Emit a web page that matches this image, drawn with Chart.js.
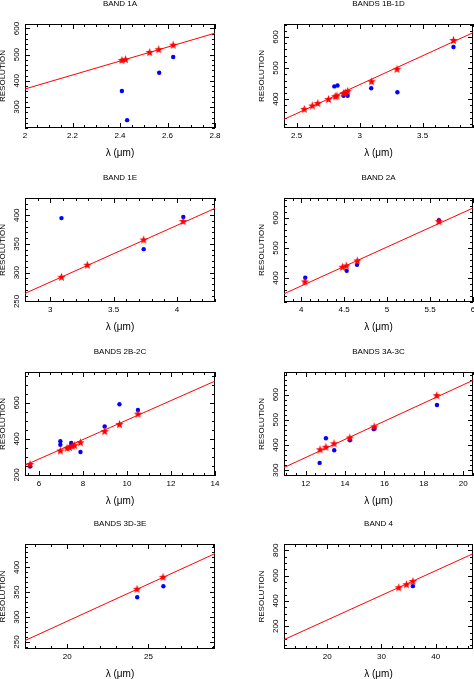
<!DOCTYPE html>
<html>
<head>
<meta charset="utf-8">
<script src="https://cdn.jsdelivr.net/npm/chart.js@4.4.1/dist/chart.umd.min.js"></script>
<style>
  html, body { margin: 0; padding: 0; background: #fff; width: 474px; height: 679px; overflow: hidden; position: relative; }
  .panel { position: absolute; }
</style>
</head>
<body>
<script>
// ---------- DATA ----------
const titles = ["BAND 1A", "BANDS 1B-1D", "BAND 1E", "BAND 2A", "BANDS 2B-2C", "BANDS 3A-3C", "BANDS 3D-3E", "BAND 4"];
const xAxisTitle = "λ (μm)";
const yAxisTitle = "RESOLUTION";

// Band 1A
const b1A_starX = [2.408, 2.423, 2.525, 2.563, 2.624];
const b1A_starY = [478, 481, 508, 519, 536];
const b1A_dotX = [2.408, 2.43, 2.565, 2.624];
const b1A_dotY = [361, 250, 431, 491];
const b1A_lineX = [2, 2.8];
const b1A_lineY = [369, 582];
const b1A_xTicks = [2, 2.2, 2.4, 2.6, 2.8];
const b1A_yTicks = [300, 400, 500, 600];

// Bands 1B-1D
const b1B_starX = [2.561, 2.625, 2.668, 2.753, 2.807, 2.82, 2.873, 2.887, 2.905, 3.095, 3.297, 3.745];
const b1B_starY = [367, 378, 386, 399, 408, 410, 418, 420, 425, 456, 496, 589];
const b1B_dotX = [2.799, 2.825, 2.873, 2.905, 3.092, 3.3, 3.745];
const b1B_dotY = [441, 444, 411, 411, 435, 422, 568];
const b1B_lineX = [2.4, 3.9];
const b1B_lineY = [335, 614];
const b1B_xTicks = [2.5, 3, 3.5];
const b1B_yTicks = [400, 500, 600];

// Band 1E
const b1E_starX = [3.088, 3.292, 3.737, 4.048];
const b1E_starY = [292, 313, 357, 389];
const b1E_dotX = [3.088, 3.737, 4.05];
const b1E_dotY = [395, 341, 397];
const b1E_lineX = [2.8, 4.3];
const b1E_lineY = [264, 412];
const b1E_xTicks = [3, 3.5, 4];
const b1E_yTicks = [250, 300, 350, 400];

// Band 2A
const b2A_starX = [4.043, 4.481, 4.525, 4.654, 5.603];
const b2A_starY = [387, 436, 440, 457, 588];
const b2A_dotX = [4.047, 4.53, 4.65, 5.603];
const b2A_dotY = [401, 424, 444, 593];
const b2A_lineX = [3.8, 6];
const b2A_lineY = [347.5, 633.5];
const b2A_xTicks = [4, 4.5, 5, 5.5, 6];
const b2A_yTicks = [400, 500, 600];

// Bands 2B-2C
const b2B_starX = [5.6, 6.976, 7.28, 7.39, 7.51, 7.62, 7.89, 8.99, 9.66, 10.5];
const b2B_starY = [258, 333, 348, 352, 359, 363, 379, 441, 480, 538];
const b2B_dotX = [5.6, 6.976, 6.976, 7.47, 7.89, 8.99, 9.66, 10.5];
const b2B_dotY = [247, 387, 368, 378, 327, 469, 593, 561];
const b2B_lineX = [5.37, 14];
const b2B_lineY = [254, 721.5];
const b2B_xTicks = [6, 8, 10, 12, 14];
const b2B_yTicks = [200, 400, 600];

// Bands 3A-3C
const b3A_starX = [12.73, 13.03, 13.44, 14.24, 15.48, 18.66];
const b3A_starY = [381, 391, 405, 428, 472, 596];
const b3A_dotX = [12.71, 13.03, 13.45, 14.25, 15.46, 15.5, 18.67];
const b3A_dotY = [329, 427, 379, 419, 463, 468, 559];
const b3A_lineX = [10.9, 20.5];
const b3A_lineY = [310.7, 657];
const b3A_xTicks = [12, 14, 16, 18, 20];
const b3A_yTicks = [300, 400, 500, 600];

// Bands 3D-3E
const b3D_starX = [24.3, 25.9];
const b3D_starY = [356, 380];
const b3D_dotX = [24.31, 25.92];
const b3D_dotY = [340, 362];
const b3D_lineX = [17.4, 29.1];
const b3D_lineY = [253, 427.7];
const b3D_xTicks = [20, 25];
const b3D_yTicks = [250, 300, 350, 400];

// Band 4
const b4_starX = [33.2, 34.6, 35.8];
const b4_starY = [504, 528, 554];
const b4_dotX = [35.8];
const b4_dotY = [517];
const b4_lineX = [12, 46.9];
const b4_lineY = [94, 773];
const b4_xTicks = [20, 30, 40];
const b4_yTicks = [200, 400, 600, 800];

// ---------- LAYOUT / STYLE ----------
const colL = [25, 284], colR = [214, 472];
const rowT = [24, 198, 372, 544], rowB = [127, 301, 475, 648];
const AXW = 28, TOPH = 25, XAXH = 34;

const panels = [
  {title: titles[0], sx: b1A_starX, sy: b1A_starY, dx: b1A_dotX, dy: b1A_dotY, lx: b1A_lineX, ly: b1A_lineY, xt: b1A_xTicks, yt: b1A_yTicks, xr: [2, 2.8], yr: [220, 617], xm: 0.05, ym: 20, xM: 0.2, yM: 100},
  {title: titles[1], sx: b1B_starX, sy: b1B_starY, dx: b1B_dotX, dy: b1B_dotY, lx: b1B_lineX, ly: b1B_lineY, xt: b1B_xTicks, yt: b1B_yTicks, xr: [2.4, 3.9], yr: [307, 642], xm: 0.1, ym: 20, xM: 0.5, yM: 100},
  {title: titles[2], sx: b1E_starX, sy: b1E_starY, dx: b1E_dotX, dy: b1E_dotY, lx: b1E_lineX, ly: b1E_lineY, xt: b1E_xTicks, yt: b1E_yTicks, xr: [2.8, 4.3], yr: [249, 430], xm: 0.1, ym: 10, xM: 0.5, yM: 50},
  {title: titles[3], sx: b2A_starX, sy: b2A_starY, dx: b2A_dotX, dy: b2A_dotY, lx: b2A_lineX, ly: b2A_lineY, xt: b2A_xTicks, yt: b2A_yTicks, xr: [3.8, 6], yr: [320, 667], xm: 0.1, ym: 20, xM: 0.5, yM: 100},
  {title: titles[4], sx: b2B_starX, sy: b2B_starY, dx: b2B_dotX, dy: b2B_dotY, lx: b2B_lineX, ly: b2B_lineY, xt: b2B_xTicks, yt: b2B_yTicks, xr: [5.37, 14], yr: [194, 772], xm: 0.5, ym: 50, xM: 2, yM: 200},
  {title: titles[5], sx: b3A_starX, sy: b3A_starY, dx: b3A_dotX, dy: b3A_dotY, lx: b3A_lineX, ly: b3A_lineY, xt: b3A_xTicks, yt: b3A_yTicks, xr: [10.9, 20.5], yr: [277, 690], xm: 0.5, ym: 20, xM: 2, yM: 100},
  {title: titles[6], sx: b3D_starX, sy: b3D_starY, dx: b3D_dotX, dy: b3D_dotY, lx: b3D_lineX, ly: b3D_lineY, xt: b3D_xTicks, yt: b3D_yTicks, xr: [17.4, 29.1], yr: [236, 447], xm: 1, ym: 10, xM: 5, yM: 50},
  {title: titles[7], sx: b4_starX, sy: b4_starY, dx: b4_dotX, dy: b4_dotY, lx: b4_lineX, ly: b4_lineY, xt: b4_xTicks, yt: b4_yTicks, xr: [12, 46.9], yr: [20, 850], xm: 2, ym: 50, xM: 10, yM: 200}
];

Chart.defaults.font.family = "'Liberation Sans', Arial, sans-serif";
Chart.defaults.font.size = 8;
Chart.defaults.color = '#000';

function makeStar() {
  const c = document.createElement('canvas');
  c.width = 11; c.height = 11;
  const g = c.getContext('2d');
  g.fillStyle = '#ff0000';
  g.beginPath();
  for (let i = 0; i < 10; i++) {
    const r = (i % 2) ? 1.9 : 4.4;
    const a = -Math.PI / 2 + i * Math.PI / 5;
    g.lineTo(5.5 + r * Math.cos(a), 5.5 + r * Math.sin(a));
  }
  g.closePath();
  g.fill();
  return c;
}
const starImg = makeStar();

const frameTicks = {
  id: 'frameTicks',
  beforeDatasetsDraw(chart, args, o) {
    const ctx = chart.ctx, ca = chart.chartArea;
    const xs = chart.scales.x, ys = chart.scales.y;
    ctx.save();
    ctx.strokeStyle = '#000';
    ctx.lineWidth = 1;
    ctx.strokeRect(ca.left + 0.5, ca.top + 0.5, ca.right - ca.left - 1, ca.bottom - ca.top - 1);
    ctx.beginPath();
    const isMaj = (v, M) => Math.abs(v / M - Math.round(v / M)) < 1e-6;
    for (let k = Math.ceil(xs.min / o.xm - 1e-9); k * o.xm <= xs.max + 1e-9; k++) {
      const v = k * o.xm;
      const p = Math.round(xs.getPixelForValue(v)) + 0.5;
      const len = isMaj(v, o.xM) ? 5 : 3;
      ctx.moveTo(p, ca.bottom); ctx.lineTo(p, ca.bottom - len);
      ctx.moveTo(p, ca.top); ctx.lineTo(p, ca.top + len);
    }
    for (let k = Math.ceil(ys.min / o.ym - 1e-9); k * o.ym <= ys.max + 1e-9; k++) {
      const v = k * o.ym;
      const p = Math.round(ys.getPixelForValue(v)) + 0.5;
      const len = isMaj(v, o.yM) ? 5 : 3;
      ctx.moveTo(ca.left, p); ctx.lineTo(ca.left + len, p);
      ctx.moveTo(ca.right, p); ctx.lineTo(ca.right - len, p);
    }
    ctx.stroke();
    ctx.restore();
  }
};

panels.forEach((P, i) => {
  const col = i % 2, row = Math.floor(i / 2);
  const L = colL[col], R = colR[col], T = rowT[row], B = rowB[row];
  const w = AXW + (R + 1 - L) + AXW;
  const h = TOPH + (B + 1 - T) + XAXH;
  const div = document.createElement('div');
  div.className = 'panel';
  div.style.left = (L - AXW) + 'px';
  div.style.top = (T - TOPH) + 'px';
  div.style.width = w + 'px';
  div.style.height = h + 'px';
  const cv = document.createElement('canvas');
  cv.width = w; cv.height = h;
  cv.style.width = w + 'px'; cv.style.height = h + 'px';
  div.appendChild(cv);
  document.body.appendChild(div);

  const pts = (xa, ya) => xa.map((x, j) => ({x: x, y: ya[j]}));

  new Chart(cv, {
    type: 'scatter',
    data: {
      datasets: [
        {label: 'stars', data: pts(P.sx, P.sy), pointStyle: starImg, pointRadius: 5, order: 0},
        {label: 'dots', data: pts(P.dx, P.dy), pointStyle: 'circle', pointRadius: 2.2, backgroundColor: '#0000ff', borderColor: '#0000ff', borderWidth: 0, order: 1},
        {label: 'fit', type: 'line', data: pts(P.lx, P.ly), showLine: true, borderColor: '#ff0000', borderWidth: 1, pointRadius: 0, fill: false, order: 2}
      ]
    },
    options: {
      responsive: false,
      animation: false,
      devicePixelRatio: 1,
      layout: {padding: 0},
      events: [],
      plugins: {
        legend: {display: false},
        tooltip: {enabled: false},
        title: {display: true, text: P.title, color: '#000', font: {size: 8, weight: 'normal'}, padding: {top: 0, bottom: TOPH - 9.6}},
        frameTicks: {xm: P.xm, ym: P.ym, xM: P.xM, yM: P.yM}
      },
      scales: {
        x: {
          type: 'linear', position: 'bottom', min: P.xr[0], max: P.xr[1],
          afterBuildTicks: s => { s.ticks = P.xt.map(v => ({value: v})); },
          afterFit: s => { s.height = XAXH; },
          ticks: {autoSkip: false, maxRotation: 0, minRotation: 0, padding: 2.7, color: '#000', callback: v => String(v)},
          grid: {display: false, drawTicks: false}, border: {display: false},
          title: {display: true, text: xAxisTitle, color: '#000', font: {size: 10}, padding: {top: 0, bottom: 3}}
        },
        y: {
          type: 'linear', position: 'left', min: P.yr[0], max: P.yr[1],
          afterBuildTicks: s => { s.ticks = P.yt.map(v => ({value: v})); },
          afterFit: s => { s.width = AXW; },
          ticks: {autoSkip: false, minRotation: 90, maxRotation: 90, crossAlign: 'center', padding: 1.6, color: '#000', callback: v => String(v)},
          grid: {display: false, drawTicks: false}, border: {display: false},
          title: {display: true, text: yAxisTitle, color: '#000', font: {size: 8}, padding: {top: 1.2, bottom: 0}}
        },
        yr: {
          type: 'linear', position: 'right', min: 0, max: 1, display: true,
          afterFit: s => { s.width = AXW; },
          ticks: {display: false}, grid: {display: false, drawTicks: false}, border: {display: false}
        }
      }
    },
    plugins: [frameTicks]
  });
});
</script>
</body>
</html>
